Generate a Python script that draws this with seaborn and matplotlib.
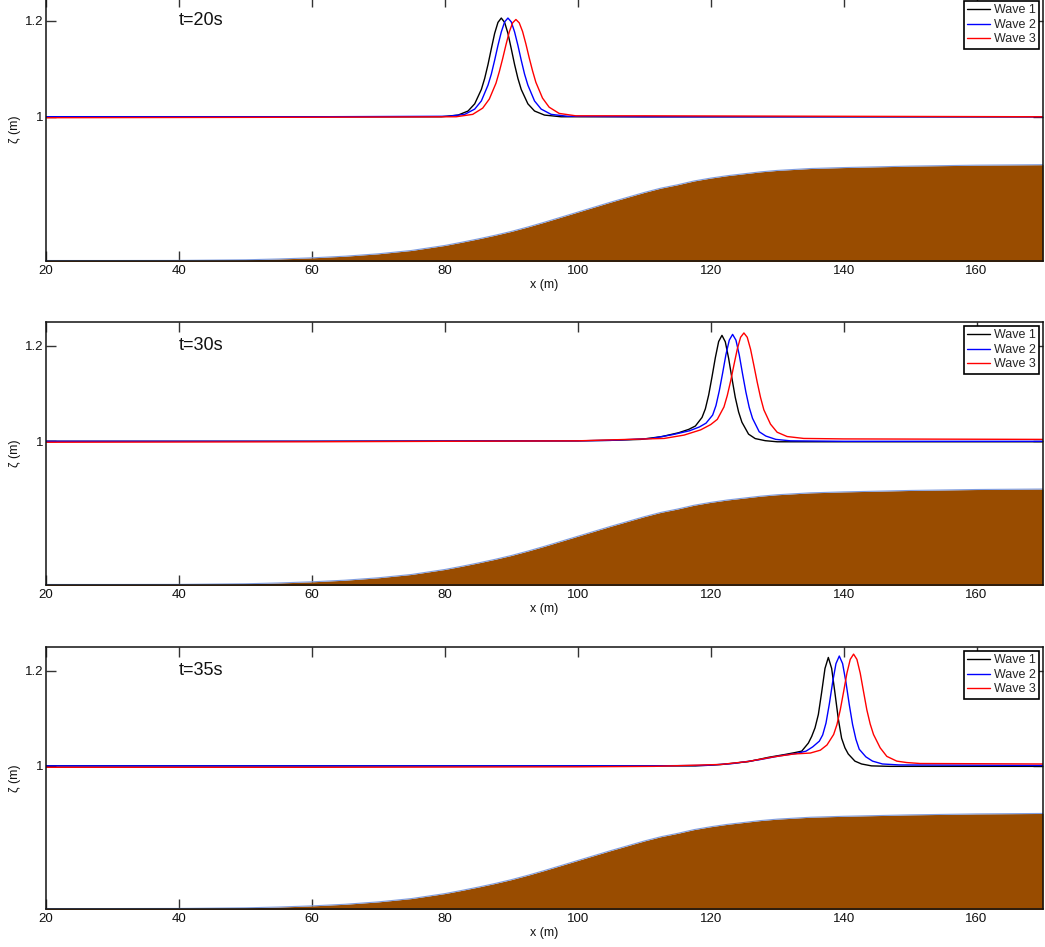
# wave propagation over a shelf: free surface at three instants, three waves each

import matplotlib
matplotlib.use("Agg")
import matplotlib.pyplot as plt
import seaborn as sns
import pandas as pd

sns.set_theme(style="ticks")
plt.rcParams['font.family'] = ['Liberation Sans', 'DejaVu Sans']
plt.rcParams['xtick.direction'] = 'in'
plt.rcParams['ytick.direction'] = 'in'
plt.rcParams['xtick.top'] = True
plt.rcParams['ytick.right'] = True

# bed profile (m)
BED_X = [20, 30, 40, 50, 55, 60, 65, 70, 75, 80, 82.5, 85, 87.5, 90, 92.5, 95, 97.5,
         100, 102.5, 105, 107.5, 110, 112.5, 115, 117.5, 120, 122.5, 125, 127.5,
         130, 132.5, 135, 140, 145, 150, 160, 170]
BED_Z = [0.700, 0.700, 0.7002, 0.7015, 0.7032, 0.7056, 0.709, 0.714, 0.721,
         0.7314, 0.738, 0.745, 0.7525, 0.7607, 0.770, 0.780, 0.7905, 0.801, 0.8115,
         0.822, 0.832, 0.842, 0.851, 0.858, 0.866, 0.872, 0.877, 0.881, 0.885,
         0.888, 0.890, 0.892, 0.894, 0.8955, 0.897, 0.899, 0.900]

# t = 20 s
T20_W1_X = [20, 60, 79.5, 82, 83.5, 84.5, 85.5, 86, 86.5, 87, 87.5, 88, 88.5, 89,
            89.5, 90, 90.5, 91, 91.5, 92.5, 93.5, 95, 97.5, 110, 140, 170]
T20_W1_Z = [1.000, 1.000, 1.000, 1.0035, 1.012, 1.027, 1.057, 1.080, 1.109, 1.142,
            1.174, 1.197, 1.206, 1.197, 1.174, 1.142, 1.109, 1.080, 1.057, 1.027,
            1.012, 1.0035, 1.000, 1.000, 1.000, 1.000]
T20_W2_X = [20, 60, 80.5, 83, 84.5, 85.5, 86.5, 87, 87.5, 88, 88.5, 89, 89.5, 90,
            90.5, 91, 91.5, 92, 92.5, 93.5, 94.5, 96, 98.5, 110, 140, 170]
T20_W2_Z = [1.000, 1.000, 1.001, 1.005, 1.016, 1.033, 1.066, 1.089, 1.118, 1.149,
            1.177, 1.198, 1.206, 1.198, 1.177, 1.149, 1.118, 1.089, 1.066, 1.033,
            1.016, 1.005, 1.001, 1.000, 1.000, 1.000]
T20_W3_X = [20, 60, 81.7, 84.2, 85.7, 86.7, 87.7, 88.2, 88.7, 89.2, 89.7, 90.2, 90.7,
            91.2, 91.7, 92.2, 92.7, 93.2, 93.7, 94.7, 95.7, 97.2, 99.7, 110, 140, 170]
T20_W3_Z = [0.998, 0.999, 1.000, 1.005, 1.018, 1.037, 1.070, 1.094, 1.121, 1.150,
            1.177, 1.196, 1.203, 1.196, 1.178, 1.152, 1.123, 1.096, 1.072, 1.039,
            1.020, 1.007, 1.002, 1.002, 1.001, 1.000]

# t = 30 s
T30_W1_X = [20, 60, 100, 105, 109.5, 112.7, 115.2, 116.7, 117.7, 118.7, 119.2, 119.7,
            120.2, 120.7, 121.2, 121.7, 122.2, 122.7, 123.2, 123.7, 124.2, 124.7,
            125.7, 126.7, 128.2, 130, 140, 170]
T30_W1_Z = [1.000, 1.000, 1.001, 1.002, 1.004, 1.010, 1.018, 1.025, 1.032, 1.050,
            1.068, 1.097, 1.135, 1.175, 1.209, 1.222, 1.2085, 1.174, 1.132, 1.092,
            1.0615, 1.040, 1.015, 1.0057, 1.0013, 0.999, 0.999, 0.999]
T30_W2_X = [20, 60, 100, 105, 111.1, 114.3, 116.8, 118.3, 119.3, 120.3, 120.8, 121.3,
            121.8, 122.3, 122.8, 123.3, 123.8, 124.3, 124.8, 125.3, 125.8, 126.3,
            127.3, 128.3, 129.8, 132, 140, 170]
T30_W2_Z = [1.000, 1.000, 1.001, 1.002, 1.006, 1.014, 1.022, 1.030, 1.038, 1.055,
            1.075, 1.106, 1.143, 1.182, 1.212, 1.224, 1.212, 1.181, 1.141, 1.103,
            1.071, 1.048, 1.020, 1.011, 1.004, 1.001, 1.000, 1.000]
T30_W3_X = [20, 60, 100, 105, 113, 116, 118.5, 120, 121, 122, 122.5, 123, 123.5, 124,
            124.5, 125, 125.5, 126, 126.5, 127, 127.5, 128, 129, 130, 131.5, 134,
            140, 170]
T30_W3_Z = [0.998, 0.999, 1.001, 1.003, 1.006, 1.013, 1.024, 1.035, 1.046, 1.072,
            1.096, 1.126, 1.160, 1.193, 1.218, 1.227, 1.218, 1.193, 1.159, 1.124,
            1.092, 1.066, 1.036, 1.019, 1.010, 1.006, 1.005, 1.004]

# t = 35 s
T35_W1_X = [20, 60, 100, 110, 117.7, 121.7, 125.7, 128.7, 131.2, 132.7, 133.7, 134.7,
            135.2, 135.7, 136.2, 136.7, 137.2, 137.7, 138.2, 138.7, 139.2, 139.7,
            140.2, 140.7, 141.7, 142.7, 144.2, 147, 170]
T35_W1_Z = [1.000, 1.000, 1.000, 1.000, 1.000, 1.003, 1.009, 1.018, 1.024, 1.028,
            1.031, 1.048, 1.062, 1.080, 1.108, 1.155, 1.205, 1.228, 1.205, 1.153,
            1.099, 1.058, 1.038, 1.025, 1.010, 1.004, 1.000, 0.999, 0.999]
T35_W2_X = [20, 60, 100, 110, 119.35, 123.35, 127.35, 130.35, 132.85, 134.35, 135.35,
            136.35, 136.85, 137.35, 137.85, 138.35, 138.85, 139.35, 139.85, 140.35,
            140.85, 141.35, 141.85, 142.35, 143.35, 144.35, 145.85, 148.35, 170]
T35_W2_Z = [1.000, 1.000, 1.000, 1.000, 1.001, 1.005, 1.013, 1.021, 1.026, 1.031,
            1.040, 1.052, 1.065, 1.090, 1.130, 1.176, 1.215, 1.231, 1.215, 1.176,
            1.129, 1.087, 1.056, 1.035, 1.019, 1.010, 1.004, 1.002, 1.001]
T35_W3_X = [20, 60, 100, 111.5, 121.5, 125.5, 129.5, 132.5, 135, 136.5, 137.5, 138.5,
            139, 139.5, 140, 140.5, 141, 141.5, 142, 142.5, 143, 143.5, 144, 144.5,
            145.5, 146.5, 148, 149.5, 151.5, 170]
T35_W3_Z = [0.997, 0.997, 0.998, 0.999, 1.003, 1.009, 1.019, 1.025, 1.027, 1.033,
            1.044, 1.066, 1.087, 1.118, 1.156, 1.195, 1.224, 1.235, 1.224, 1.195,
            1.156, 1.1175, 1.088, 1.066, 1.038, 1.020, 1.010, 1.007, 1.005, 1.004]

TIMES = ["t=20s", "t=30s", "t=35s"]
WAVES = ["Wave 1", "Wave 2", "Wave 3"]
COLORS = ["#000000", "#0000ff", "#ff0000"]

panels = [
    [(T20_W1_X, T20_W1_Z), (T20_W2_X, T20_W2_Z), (T20_W3_X, T20_W3_Z)],
    [(T30_W1_X, T30_W1_Z), (T30_W2_X, T30_W2_Z), (T30_W3_X, T30_W3_Z)],
    [(T35_W1_X, T35_W1_Z), (T35_W2_X, T35_W2_Z), (T35_W3_X, T35_W3_Z)],
]

# axes boxes in figure fractions (left, bottom, width, height)
boxes = [
    (0.0440, 0.7244, 0.9541, 0.2788),
    (0.0440, 0.3823, 0.9541, 0.2777),
    (0.0440, 0.0401, 0.9541, 0.2767),
]

fig = plt.figure(figsize=(10.45, 9.47), dpi=100)
bed = pd.DataFrame({"x": BED_X, "z": BED_Z})

for box, label, waves in zip(boxes, TIMES, panels):
    ax = fig.add_axes(box)
    ax.fill_between(bed["x"], 0.0, bed["z"], color="#994c00", lw=0)
    ax.plot(bed["x"], bed["z"], color="#7f9de0", lw=0.8)
    for (xs, zs), name, c in zip(waves, WAVES, COLORS):
        df = pd.DataFrame({"x": xs, "z": zs})
        sns.lineplot(data=df, x="x", y="z", color=c, lw=1.0, label=name,
                     sort=False, estimator=None, ax=ax)

    ax.set_xlim(20, 170)
    ax.set_ylim(0.699, 1.25)
    ax.set_xticks([20, 40, 60, 80, 100, 120, 140, 160])
    ax.set_yticks([1.0, 1.2])
    ax.set_yticklabels(["1", "1.2"])
    ax.tick_params(axis="both", labelsize=9.5, length=7, width=1.0,
                   color="#333333", labelcolor="#111111")
    ax.tick_params(axis="x", pad=3)
    ax.tick_params(axis="y", pad=2)
    for sp in ax.spines.values():
        sp.set_color("#111111")
        sp.set_linewidth(1.1)
    ax.set_xlabel("x (m)", fontsize=9, labelpad=1, color="#111111")
    ax.set_ylabel("ζ (m)", fontsize=9, labelpad=2.5, color="#111111")
    ax.text(40, 1.2, label, fontsize=13, ha="left", va="center", color="#111111")

    leg = ax.legend(loc="upper right", fontsize=9, frameon=True, fancybox=False,
                    borderaxespad=0.35, borderpad=0.25, labelspacing=0.2,
                    handlelength=1.8, handletextpad=0.3)
    leg.get_frame().set_edgecolor("black")
    leg.get_frame().set_linewidth(1.2)
    leg.get_frame().set_alpha(1.0)

fig.savefig("out.png", dpi=100)
